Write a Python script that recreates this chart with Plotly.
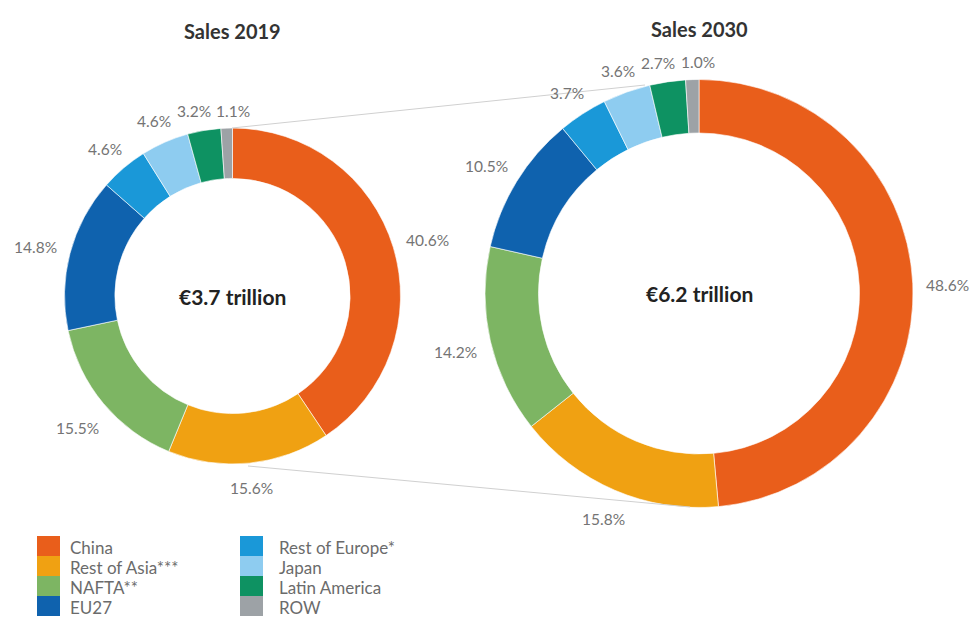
import math
import plotly.graph_objects as go

# ---- data ----
regions = ["China", "Rest of Asia***", "NAFTA**", "EU27",
           "Rest of Europe*", "Japan", "Latin America", "ROW"]
sales_2019 = [40.6, 15.6, 15.5, 14.8, 4.6, 4.6, 3.2, 1.1]
sales_2030 = [48.6, 15.8, 14.2, 10.5, 3.7, 3.6, 2.7, 1.0]
colors = ["#E95E1B", "#F0A112", "#7DB563", "#0F62AE",
          "#1A98D8", "#8ECCF0", "#0E9262", "#9DA2A6"]
titles = ["Sales 2019", "Sales 2030"]
totals = ["€3.7 trillion", "€6.2 trillion"]

W, H = 975, 624
FONT = "Lato, 'Open Sans', sans-serif"
LABEL_SIZE = 15.5

# pie geometry (pixels): center x, center y, outer radius, hole fraction
pies = [
    dict(values=sales_2019, cx=232.5, cy=296, r=168, hole=0.70, title=titles[0], total=totals[0], ty=31),
    dict(values=sales_2030, cx=699, cy=293.5, r=214, hole=0.75, title=titles[1], total=totals[1], ty=29),
]

def px(x):
    return x / W

def py(y):
    return 1 - y / H

fig = go.Figure()
annotations = []
shapes = []

for p in pies:
    fig.add_trace(go.Pie(
        labels=regions, values=p["values"], sort=False, direction="clockwise",
        rotation=0, hole=p["hole"], textinfo="none", hoverinfo="label+percent",
        marker=dict(colors=colors, line=dict(color="rgba(255,255,255,0.6)", width=1)),
        domain=dict(x=[px(p["cx"] - p["r"]), px(p["cx"] + p["r"])],
                    y=[py(p["cy"] + p["r"]), py(p["cy"] - p["r"])]),
        showlegend=False,
    ))
    # slice labels at mid-angle, outside the ring
    total = sum(p["values"])
    cum = 0.0
    labs = []
    for v in p["values"]:
        mid = (cum + v / 2) / total * 2 * math.pi
        cum += v
        s, c = math.sin(mid), math.cos(mid)
        txt = f"{v:.1f}%"
        half_w = 0.29 * LABEL_SIZE * len(txt) / 2 * 1.9
        extent = abs(s) * half_w + abs(c) * 7
        d = p["r"] + 13 + extent
        labs.append([p["cx"] + s * d, p["cy"] - c * d + 3, txt, 2 * half_w])
    # push apart labels that would collide
    for _ in range(20):
        for i in range(len(labs)):
            for j in range(i + 1, len(labs)):
                a, b = labs[i], labs[j]
                need = (a[3] + b[3]) / 2 + 5
                if abs(a[1] - b[1]) < 15 and abs(a[0] - b[0]) < need:
                    shift = (need - abs(a[0] - b[0])) / 2
                    if a[0] <= b[0]:
                        a[0] -= shift; b[0] += shift
                    else:
                        a[0] += shift; b[0] -= shift
    for x, y, txt, _ in labs:
        annotations.append(dict(
            x=px(x), y=py(y), xref="paper", yref="paper",
            text=txt, showarrow=False, xanchor="center", yanchor="middle",
            font=dict(family=FONT, size=LABEL_SIZE, color="#747474")))
    # title & center total
    annotations.append(dict(x=px(p["cx"]), y=py(p["ty"]), xref="paper", yref="paper",
                            text=f"<b>{p['title']}</b>", showarrow=False,
                            xanchor="center", yanchor="middle",
                            font=dict(family=FONT, size=20, color="#333333")))
    annotations.append(dict(x=px(p["cx"]), y=py(p["cy"]), xref="paper", yref="paper",
                            text=f"<b>{p['total']}</b>", showarrow=False,
                            xanchor="center", yanchor="middle",
                            font=dict(family=FONT, size=21, color="#222222")))

# connector lines between the two donuts
shapes.append(dict(type="line", xref="paper", yref="paper",
                   x0=px(232), y0=py(128), x1=px(645), y1=py(85),
                   line=dict(color="#d0d0d0", width=1)))
shapes.append(dict(type="line", xref="paper", yref="paper",
                   x0=px(248), y0=py(466), x1=px(690), y1=py(507),
                   line=dict(color="#d0d0d0", width=1)))

# legend: two columns of stacked swatches
col_x = [(37, 68), (240, 277)]
row_y0, row_h = 536, 20
for i, (name, col) in enumerate(zip(regions, colors)):
    ci, ri = divmod(i, 4)
    sx, tx = col_x[ci]
    y0 = row_y0 + ri * row_h
    shapes.append(dict(type="rect", xref="paper", yref="paper",
                       x0=px(sx), x1=px(sx + 23), y0=py(y0 + row_h), y1=py(y0),
                       fillcolor=col, line=dict(width=0)))
    annotations.append(dict(x=px(tx), y=py(y0 + row_h / 2 + 1), xref="paper", yref="paper",
                            text=name, showarrow=False, xanchor="left", yanchor="middle",
                            font=dict(family=FONT, size=17, color="#6b6b6b")))

fig.update_layout(
    width=W, height=H, margin=dict(l=0, r=0, t=0, b=0),
    paper_bgcolor="white", plot_bgcolor="white",
    annotations=annotations, shapes=shapes, showlegend=False,
)

fig.write_html("out.html", config={"displayModeBar": False},
               post_script="document.body.style.margin='0';document.body.style.overflow='hidden';")
